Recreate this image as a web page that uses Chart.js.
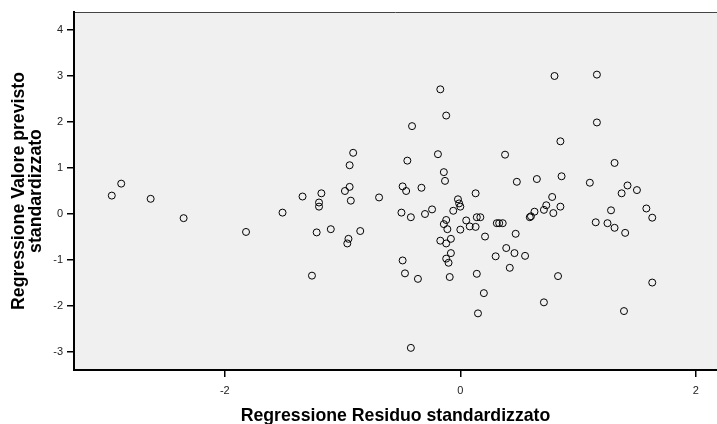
<!DOCTYPE html>
<html>
<head>
<meta charset="utf-8">
<script src="https://cdn.jsdelivr.net/npm/chart.js@4"></script>
<style>
html,body{margin:0;padding:0;background:#fff;}
#c{display:block;}
</style>
</head>
<body>
<canvas id="c" width="717" height="424"></canvas>
<script>
const xTitle = 'Regressione Residuo standardizzato';
const yTitle = ['Regressione Valore previsto', 'standardizzato'];
const xTicks = [-2, 0, 2];
const yTicks = [-3, -2, -1, 0, 1, 2, 3, 4];
const residui = [-2.96,-2.88,-2.63,-2.35,-1.82,-1.51,-1.34,-1.26,-1.22,-1.20,
  -1.20,-1.18,-1.10,-0.98,-0.94,-0.93,-0.94,-0.91,-0.95,-0.96,
  -0.85,-0.69,-0.50,-0.49,-0.49,-0.47,-0.46,-0.45,-0.42,-0.42,
  -0.41,-0.36,-0.33,-0.30,-0.24,-0.19,-0.17,-0.12,-0.14,-0.13,
  -0.17,-0.12,-0.14,-0.12,-0.11,-0.08,-0.08,-0.12,-0.10,-0.09,
  -0.06,-0.02,-0.01,0.00,0.00,0.05,0.08,0.13,0.13,0.14,
  0.17,0.14,0.15,0.21,0.20,0.31,0.33,0.36,0.30,0.38,
  0.39,0.42,0.46,0.47,0.48,0.55,0.59,0.60,0.63,0.65,
  0.71,0.73,0.79,0.78,0.80,0.85,0.86,0.85,0.83,0.71,
  1.10,1.15,1.16,1.16,1.25,1.28,1.31,1.31,1.37,1.42,
  1.50,1.40,1.39,1.58,1.63,1.63];
const previsti = [0.40,0.66,0.33,-0.09,-0.39,0.03,0.38,-1.34,-0.40,0.25,
  0.16,0.45,-0.33,0.50,0.59,0.29,1.06,1.33,-0.54,-0.64,
  -0.37,0.36,0.03,0.60,-1.01,-1.29,0.50,1.16,-2.91,-0.07,
  1.91,-1.41,0.57,0.00,0.10,1.30,2.71,2.14,0.91,0.72,
  -0.58,-0.64,-0.22,-0.13,-0.33,-0.54,-0.85,-0.97,-1.06,-1.37,
  0.07,0.32,0.23,0.16,-0.34,-0.14,-0.27,-0.28,0.45,-0.07,
  -0.07,-1.30,-2.16,-0.49,-1.72,-0.20,-0.20,-0.20,-0.92,1.29,
  -0.74,-1.17,-0.85,-0.43,0.70,-0.91,-0.07,-0.05,0.05,0.76,
  0.09,0.19,0.02,0.37,3.00,0.16,0.82,1.58,-1.35,-1.92,
  0.68,-0.18,3.03,1.99,-0.20,0.08,-0.30,1.11,0.45,0.62,
  0.52,-0.41,-2.11,0.12,-0.08,-1.49];

const points = residui.map((x, i) => ({x: x, y: previsti[i]}));

const plotBg = {
  id: 'plotBg',
  beforeDraw(chart) {
    const {ctx, chartArea: a} = chart;
    ctx.save();
    ctx.fillStyle = '#f0f0f0';
    ctx.fillRect(a.left, a.top, a.right - a.left, a.bottom - a.top);
    ctx.strokeStyle = '#444';
    ctx.lineWidth = 1;
    ctx.beginPath();
    ctx.moveTo(a.left, a.top + 0.5);
    ctx.lineTo(a.right, a.top + 0.5);
    ctx.stroke();
    ctx.restore();
  }
};

new Chart(document.getElementById('c'), {
  type: 'scatter',
  data: {
    datasets: [{
      data: points,
      pointStyle: 'circle',
      pointRadius: 3.5,
      pointHoverRadius: 3.5,
      borderWidth: 1,
      borderColor: '#000',
      backgroundColor: 'rgba(0,0,0,0)'
    }]
  },
  plugins: [plotBg],
  options: {
    responsive: false,
    animation: false,
    devicePixelRatio: 1,
    events: [],
    layout: {autoPadding: false, padding: {top: 12, left: 0, right: 0, bottom: 0}},
    plugins: {legend: {display: false}, tooltip: {enabled: false}},
    scales: {
      x: {
        type: 'linear',
        min: -3.281,
        max: 2.18,
        afterBuildTicks(s) { s.ticks = xTicks.map(v => ({value: v})); },
        afterFit(s) { s.height = 54; },
        grid: {drawOnChartArea: false, drawTicks: true, tickLength: 7, color: '#000', lineWidth: 1.5},
        border: {display: true, color: '#000', width: 2},
        ticks: {font: {family: 'Liberation Sans, Arial', size: 11}, color: '#222', padding: 7, maxRotation: 0},
        title: {display: true, text: xTitle, font: {family: 'Liberation Sans, Arial', size: 17.7, weight: 'bold', lineHeight: 0.8}, color: '#000', padding: {top: 0, bottom: 0.6}}
      },
      y: {
        type: 'linear',
        min: -3.391,
        max: 4.391,
        afterBuildTicks(s) { s.ticks = yTicks.map(v => ({value: v})); },
        afterFit(s) { s.width = 74; },
        grid: {drawOnChartArea: false, drawTicks: true, tickLength: 7, color: '#000', lineWidth: 1.5},
        border: {display: true, color: '#000', width: 2},
        ticks: {font: {family: 'Liberation Sans, Arial', size: 11}, color: '#222', padding: 4},
        title: {display: true, text: yTitle, font: {family: 'Liberation Sans, Arial', size: 17.7, weight: 'bold', lineHeight: 1.0}, color: '#000', padding: {top: 10, bottom: 0}}
      }
    }
  }
});
</script>
</body>
</html>
